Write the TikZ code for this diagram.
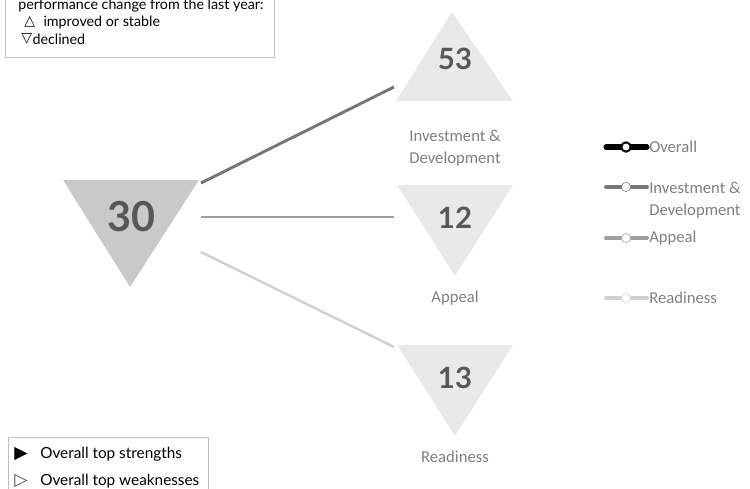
\documentclass[tikz,border=0pt]{standalone}
\usepackage{fontspec}
\setmainfont{Carlito}
\newfontfamily\gillfont{Lato}
\newfontfamily\symfont{DejaVu Sans}
\usetikzlibrary{positioning, calc}
\definecolor{numgray}{HTML}{585858}
\definecolor{labelgray}{HTML}{7F7F7F}
\definecolor{bigtri}{HTML}{C9C9C9}
\definecolor{smalltri}{HTML}{E9E9EB}
\definecolor{invline}{HTML}{767676}
\definecolor{appline}{HTML}{9D9D9D}
\definecolor{rdyline}{HTML}{D0D0D0}
\definecolor{boxline}{HTML}{BFBFBF}

\tikzset{
  numtext/.style={font=\gillfont\bfseries\fontsize{22}{22}\selectfont, text=numgray},
  pillarlabel/.style={font=\fontsize{12.5}{17}\selectfont, text=labelgray, align=center},
  keytext/.style={font=\fontsize{12.5}{17}\selectfont, text=labelgray, anchor=west,
                  inner xsep=0pt, align=left},
  keydot/.style={circle, draw, fill=white, inner sep=0pt, minimum size=7pt},
  notetext/.style={font=\gillfont\fontsize{10.7}{12}\selectfont, anchor=west, inner sep=0pt},
  notemark/.style={font=\symfont\fontsize{10.5}{12}\selectfont, anchor=west, inner sep=0pt},
}

\begin{document}
\begin{tikzpicture}[x=0.75pt, y=-0.75pt]
  \clip (0,0) rectangle (750,489);

  % change legend (top left)
  \draw[boxline, fill=white] (5,-20) rectangle (274,57);
  \node[notetext] (note-head) at (18,6) {performance change from the last year:};
  \node[notemark] (note-up) at (24,22) {△};
  \node[notetext, right=6pt of note-up] (note-up-lbl) {improved or stable};
  \node[notemark] (note-down) at (21,39) {▽};
  \node[notetext, right=0pt of note-down] (note-down-lbl) {declined};

  % overall score
  \fill[bigtri] (63,180) -- (199,180) -- (130,287) -- cycle;
  \node[numtext, font=\gillfont\bfseries\fontsize{31}{31}\selectfont] (overall) at (131,217) {30};

  % pillar scores
  \fill[smalltri] (452,12) -- (513,101) -- (396,101) -- cycle;
  \node[numtext] (invest) at (455,59) {53};
  \node[pillarlabel] (invest-lbl) at (455,148) {Investment \&\\Development};

  \fill[smalltri] (397,185) -- (513,185) -- (455,276) -- cycle;
  \node[numtext] (appeal) at (455,218) {12};
  \node[pillarlabel] (appeal-lbl) at (455,298) {Appeal};

  \fill[smalltri] (397,345) -- (513,345) -- (455,436) -- cycle;
  \node[numtext] (ready) at (455,378) {13};
  \node[pillarlabel] (ready-lbl) at (455,457) {Readiness};

  % links
  \coordinate (o-top) at (201,183);
  \coordinate (o-mid) at (201,217);
  \coordinate (o-bot) at (201,252);
  \coordinate (i-in) at (394,87);
  \coordinate (a-in) at (394,217);
  \coordinate (r-in) at (394,347);
  \draw[invline, line width=2.2pt] (o-top) -- (i-in);
  \draw[appline, line width=2.2pt] (o-mid) -- (a-in);
  \draw[rdyline, line width=1.8pt] (o-bot) -- (r-in);

  % series legend (right)
  \draw[black, line width=3.8pt, line cap=round] (606,147) -- (647,147);
  \node[keydot, draw=black, line width=1.5pt] (key-ovr) at (626,147) {};
  \node[keytext] (key-ovr-lbl) at (649,147) {Overall};

  \draw[invline, line width=3pt, line cap=round] (606,187) -- (647,187);
  \node[keydot, draw=invline] (key-inv) at (626,187) {};
  \node[keytext, anchor=north west] (key-inv-lbl) at (649,177) {Investment \&\\Development};

  \draw[appline, line width=3pt, line cap=round] (606,238) -- (647,238);
  \node[keydot, draw=appline] (key-app) at (626,238) {};
  \node[keytext] (key-app-lbl) at (649,238) {Appeal};

  \draw[rdyline, line width=3pt, line cap=round] (606,298) -- (647,298);
  \node[keydot, draw=rdyline] (key-rdy) at (626,298) {};
  \node[keytext] (key-rdy-lbl) at (649,298) {Readiness};

  % strengths legend (bottom left)
  \draw[boxline, fill=white] (8,437) rectangle (208,520);
  \node[notemark, font=\symfont\fontsize{13}{13}\selectfont] (str-mark) at (14,454) {▶};
  \node[notetext, font=\gillfont\fontsize{11.5}{12}\selectfont] (str-lbl) at (40,454) {Overall top strengths};
  \node[notemark, font=\symfont\fontsize{13}{13}\selectfont, text=black!70] (weak-mark) at (14,481) {▷};
  \node[notetext, font=\gillfont\fontsize{11.5}{12}\selectfont] (weak-lbl) at (40,481) {Overall top weaknesses};
\end{tikzpicture}
\end{document}
